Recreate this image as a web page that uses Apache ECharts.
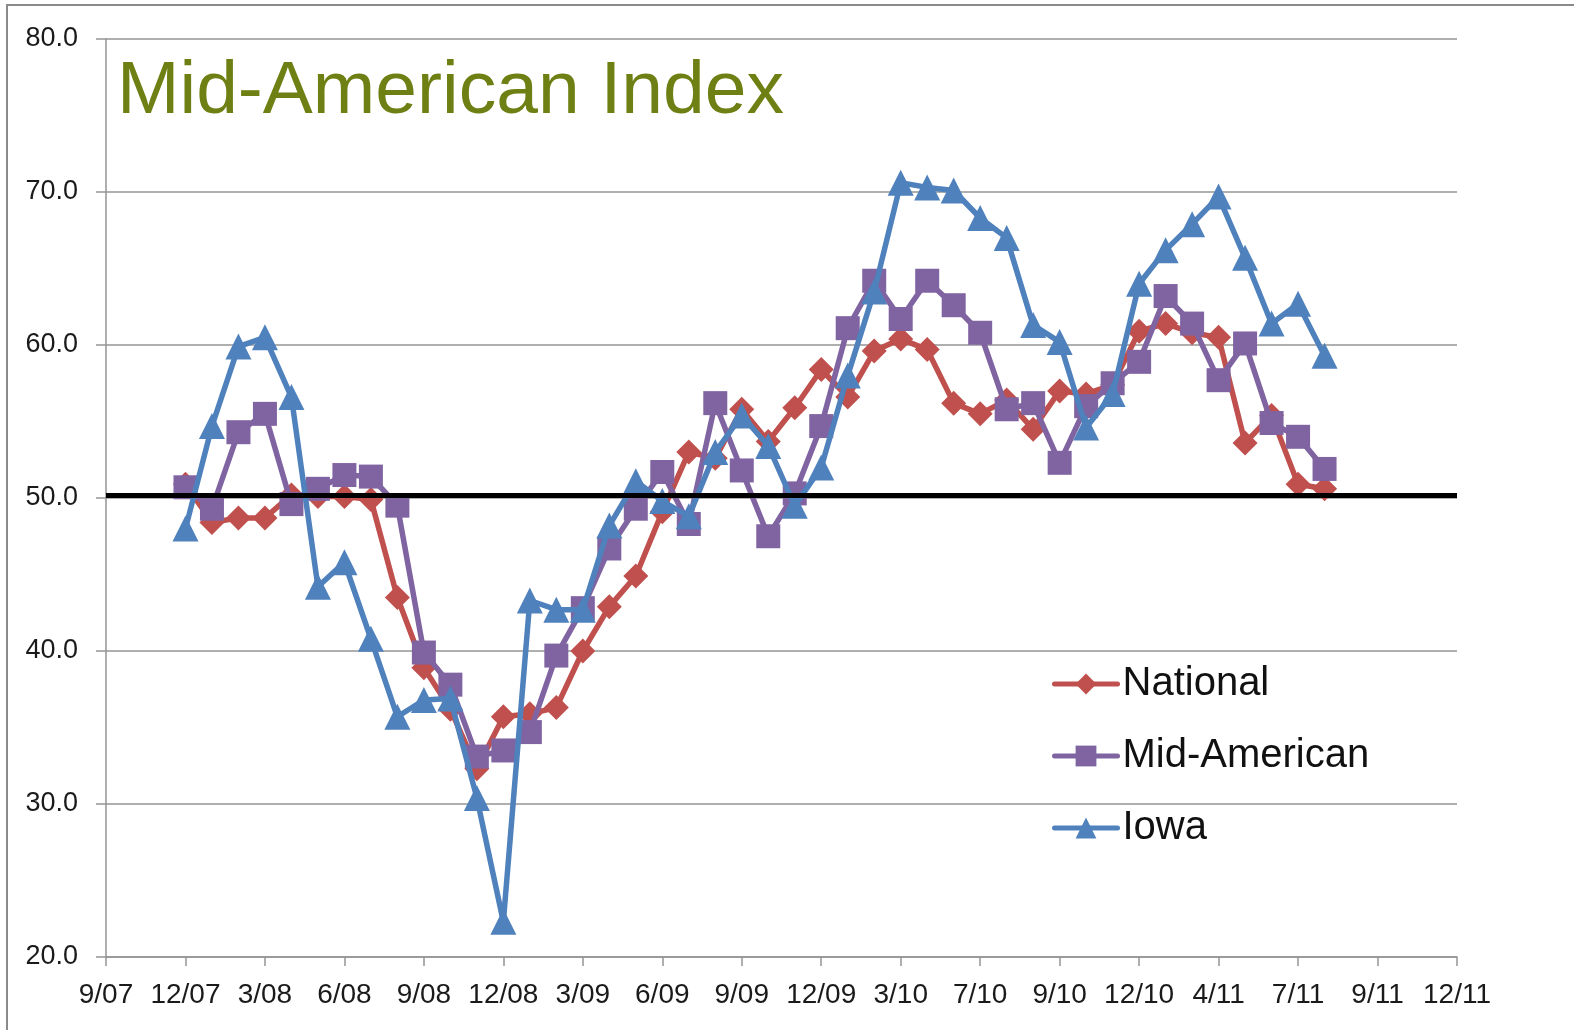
<!DOCTYPE html>
<html>
<head>
<meta charset="utf-8">
<script src="https://cdn.jsdelivr.net/npm/echarts@6/dist/echarts.min.js"></script>
<style>
  html, body { margin: 0; padding: 0; background: #fff; }
  #chart { position: absolute; left: 0; top: 0; width: 1574px; height: 1030px; }
  #frame { position: absolute; left: 6px; top: 4px; width: 1600px; height: 1100px;
           border-left: 2px solid #8a8a8a; border-top: 2px solid #8a8a8a; pointer-events: none; }
</style>
</head>
<body>
<div id="chart"></div>
<div id="frame"></div>
<script>
// tick labels on the x axis, one every 3 monthly slots
const tickLabels = ['9/07', '12/07', '3/08', '6/08', '9/08', '12/08', '3/09', '6/09', '9/09',
  '12/09', '3/10', '7/10', '9/10', '12/10', '4/11', '7/11', '9/11', '12/11']
const slotsPerTick = 3
const firstSlot = 3 // first reading sits on 12/07

const national = [50.9, 48.4, 48.7, 48.7, 50.2, 50.1, 50.1, 49.9, 43.5, 38.9, 36.2, 32.3,
  35.7, 35.9, 36.3, 40.0, 42.9, 44.9, 49.1, 53.0, 52.6, 55.8, 53.7, 55.9, 58.4, 56.6,
  59.6, 60.4, 59.7, 56.2, 55.5, 56.4, 54.5, 57.0, 56.8, 57.4, 60.9, 61.4, 60.8, 60.5,
  53.6, 55.4, 50.9, 50.6]
const midAmerican = [50.7, 49.3, 54.3, 55.5, 49.6, 50.6, 51.5, 51.4, 49.5, 39.9, 37.8, 33.1,
  33.5, 34.7, 39.7, 42.8, 46.7, 49.3, 51.7, 48.3, 56.2, 51.8, 47.5, 50.3, 54.7, 61.1,
  64.2, 61.7, 64.2, 62.6, 60.8, 55.8, 56.2, 52.3, 56.0, 57.5, 58.9, 63.2, 61.4, 57.7,
  60.1, 54.9, 54.0, 51.9]
const iowa = [48.0, 54.7, 59.9, 60.5, 56.6, 44.2, 45.8, 40.8, 35.7, 36.8, 36.9, 30.4,
  22.3, 43.3, 42.7, 42.7, 48.2, 51.1, 49.8, 48.8, 53.0, 55.4, 53.4, 49.5, 52.0, 58.0,
  63.5, 70.6, 70.3, 70.1, 68.3, 67.0, 61.3, 60.2, 54.6, 56.8, 64.0, 66.2, 67.9, 69.7,
  65.7, 61.4, 62.7, 59.3]
const baseline = 50.2

const slotCount = (tickLabels.length - 1) * slotsPerTick + 1
const slots = []
for (let i = 0; i < slotCount; i++) slots.push('s' + i)
const pad = arr => new Array(firstSlot).fill('-').concat(arr)

const gray = '#959595'
const labelFont = 'Liberation Sans'

const chart = echarts.init(document.getElementById('chart'))
chart.setOption({
  animation: false,
  color: ['#C0504D', '#8064A2', '#4F81BD'],
  title: {
    text: 'Mid-American Index',
    left: 117,
    top: 55,
    padding: 0,
    textStyle: {
      fontFamily: 'Liberation Sans',
      fontSize: 75,
      fontWeight: 'normal',
      color: '#6E8014',
      lineHeight: 75
    }
  },
  legend: {
    data: ['National', 'Mid-American', 'Iowa'],
    orient: 'vertical',
    left: 1052,
    top: 661,
    itemWidth: 63,
    itemHeight: 26,
    itemGap: 26,
    padding: 0,
    lineStyle: { width: 5, cap: 'round' },
    textStyle: {
      fontFamily: labelFont,
      fontSize: 40,
      color: '#111',
      lineHeight: 46,
      padding: [0, 0, 0, 0]
    }
  },
  grid: {
    left: 106,
    right: 117,
    top: 39,
    bottom: 73,
    containLabel: false
  },
  xAxis: {
    type: 'category',
    data: slots,
    boundaryGap: false,
    axisLine: { lineStyle: { color: gray, width: 1.5 } },
    axisTick: { show: true, interval: slotsPerTick - 1, length: 9, lineStyle: { color: gray, width: 1.5 } },
    axisLabel: {
      interval: slotsPerTick - 1,
      margin: 24,
      fontFamily: labelFont,
      fontSize: 28,
      color: '#1a1a1a',
      formatter: (v, i) => tickLabels[i / slotsPerTick]
    },
    splitLine: { show: false }
  },
  yAxis: {
    type: 'value',
    min: 20,
    max: 80,
    interval: 10,
    axisLine: { show: true, lineStyle: { color: gray, width: 1.5 } },
    axisTick: { show: true, length: 10, lineStyle: { color: gray, width: 1.5 } },
    axisLabel: {
      margin: 28,
      fontFamily: labelFont,
      fontSize: 27,
      color: '#1a1a1a',
      formatter: v => v.toFixed(1)
    },
    splitLine: { lineStyle: { color: gray, width: 1.5 } }
  },
  series: [
    {
      name: 'National',
      type: 'line',
      data: pad(national),
      symbol: 'diamond',
      symbolSize: 25,
      showAllSymbol: true,
      lineStyle: { width: 5.5 },
      z: 2
    },
    {
      name: 'Mid-American',
      type: 'line',
      data: pad(midAmerican),
      symbol: 'rect',
      symbolSize: 24,
      showAllSymbol: true,
      lineStyle: { width: 5.5 },
      z: 3
    },
    {
      name: 'Iowa',
      type: 'line',
      data: pad(iowa),
      symbol: 'triangle',
      symbolSize: 26,
      showAllSymbol: true,
      lineStyle: { width: 5.5 },
      z: 4
    },
    {
      name: 'baseline',
      type: 'line',
      data: [],
      z: 10,
      markLine: {
        silent: true,
        symbol: 'none',
        label: { show: false },
        lineStyle: { color: '#000', width: 5, type: 'solid' },
        data: [{ yAxis: baseline }]
      }
    }
  ]
})
</script>
</body>
</html>
